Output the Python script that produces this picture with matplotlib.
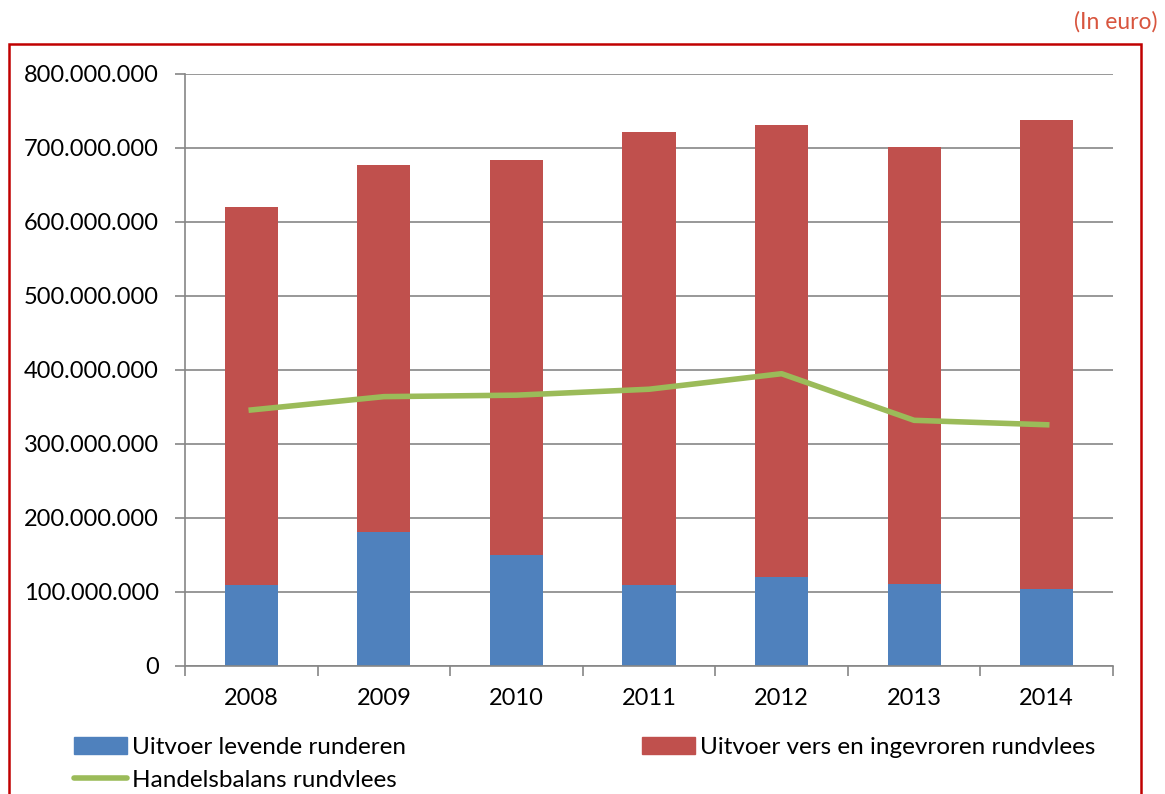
import numpy as np
import matplotlib.pyplot as plt
from matplotlib.patches import Rectangle
from matplotlib.lines import Line2D
from matplotlib.ticker import FuncFormatter, MultipleLocator

plt.rcParams['font.family'] = ['Lato', 'DejaVu Sans']

# data (euro)
jaren = ['2008', '2009', '2010', '2011', '2012', '2013', '2014']
levende_runderen = [110e6, 181e6, 150e6, 109e6, 120e6, 111e6, 104e6]
totaal_uitvoer = [620e6, 677e6, 684e6, 721e6, 731e6, 701e6, 738e6]
vers_rundvlees = [t - l for t, l in zip(totaal_uitvoer, levende_runderen)]
handelsbalans = [346e6, 364e6, 366e6, 374e6, 395e6, 332e6, 326e6]

blauw = '#4F81BD'
rood = '#C0504D'
groen = '#9BBB59'
grijs = '#868686'

fig = plt.figure(figsize=(11.65, 7.94), dpi=100)
ax = fig.add_axes([185 / 1165, 1 - 666 / 794, (1113 - 185) / 1165, (666 - 74) / 794])

x = np.arange(len(jaren))
ax.bar(x, levende_runderen, width=0.4, color=blauw, zorder=2)
ax.bar(x, vers_rundvlees, width=0.4, bottom=levende_runderen, color=rood, zorder=2)
ax.plot(x, handelsbalans, color=groen, linewidth=4, zorder=3)

ax.set_xlim(-0.5, len(jaren) - 0.5)
ax.set_ylim(0, 800e6)
ax.yaxis.set_major_locator(MultipleLocator(100e6))
ax.yaxis.set_major_formatter(FuncFormatter(lambda v, p: f'{int(v):,}'.replace(',', '.')))
ax.set_xticks(x)
ax.set_xticklabels(jaren)
ax.set_xticks(np.arange(-0.5, len(jaren)), minor=True)
ax.tick_params(axis='x', which='major', length=0, pad=16, labelsize=17)
ax.tick_params(axis='x', which='minor', length=7, color=grijs, width=1.2)
ax.tick_params(axis='y', length=7, color=grijs, width=1.2, labelsize=17, pad=12)

ax.grid(axis='y', color=grijs, linewidth=1.2, zorder=0)
for s in ['top', 'right']:
    ax.spines[s].set_visible(False)
for s in ['left', 'bottom']:
    ax.spines[s].set_color(grijs)
    ax.spines[s].set_linewidth(1.2)

# legends
h_blauw = Rectangle((0, 0), 1, 1, color=blauw)
h_rood = Rectangle((0, 0), 1, 1, color=rood)
h_groen = Line2D([0], [0], color=groen, linewidth=4, solid_capstyle='round')
leg_kw = dict(loc='upper left', frameon=False, fontsize=17.5, handlelength=2.2,
              handleheight=0.7, handletextpad=0.2, borderaxespad=0)
fig.legend([h_blauw, h_groen], ['Uitvoer levende runderen', 'Handelsbalans rundvlees'],
           bbox_to_anchor=(64 / 1165, 1 - 727 / 794), labelspacing=0.5, **leg_kw)
fig.legend([h_rood], ['Uitvoer vers en ingevroren rundvlees'],
           bbox_to_anchor=(632 / 1165, 1 - 727 / 794), **leg_kw)

# red frame
fig.patches.append(Rectangle((9 / 1165, -0.05), (1141 - 9) / 1165, 1 - 44 / 794 + 0.05,
                             transform=fig.transFigure, fill=False, edgecolor='#C00000',
                             linewidth=1.8))
fig.text(1158 / 1165, 1 - 22 / 794, '(In euro)', ha='right', va='center',
         fontsize=16.5, color='#D8553E')

fig.savefig('out.png', dpi=100)
